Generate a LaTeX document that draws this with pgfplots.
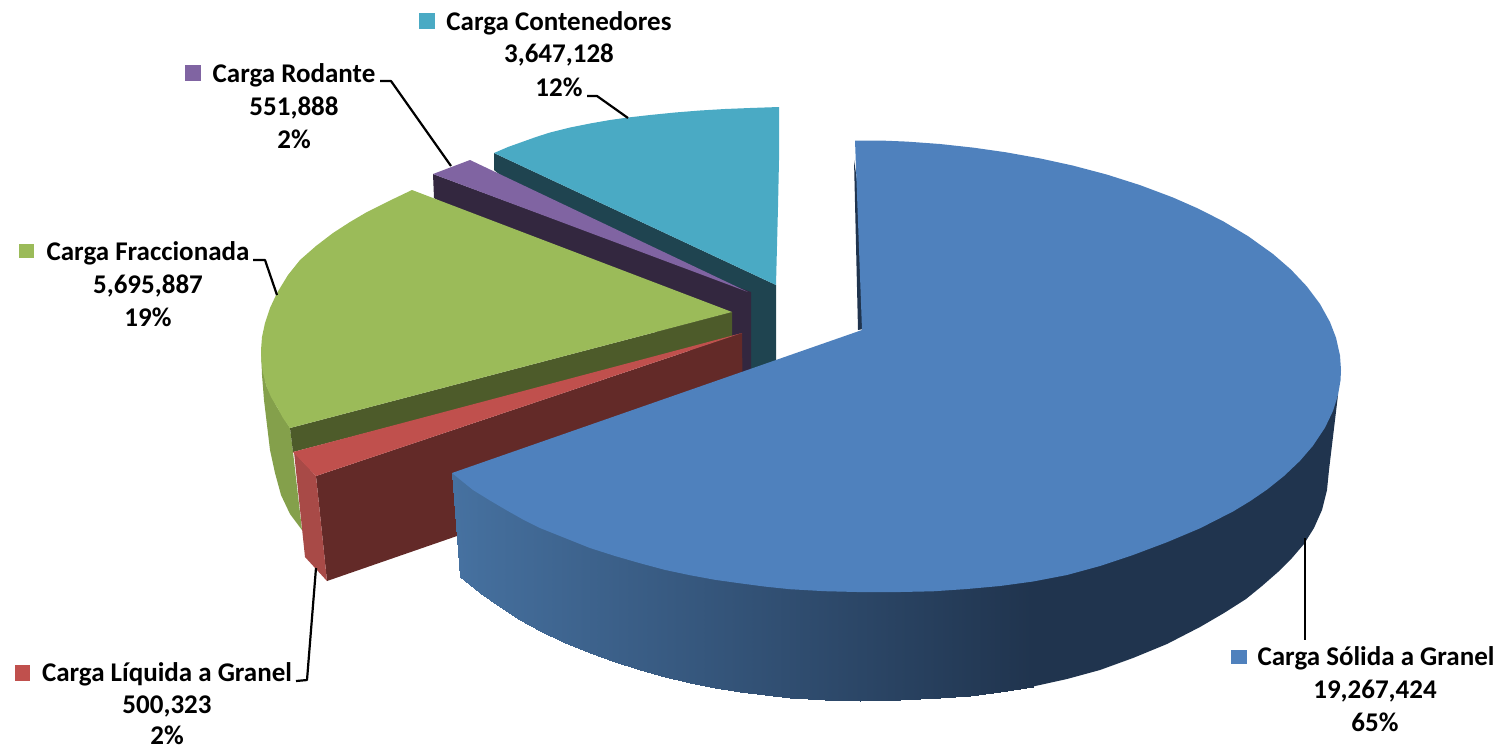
\documentclass[border=0pt]{standalone}
\usepackage{pgfplots}
\pgfplotsset{compat=1.18}
\usepackage{fontspec}
\setmainfont{Carlito}
\definecolor{bluetop}{HTML}{4F81BD}
\definecolor{bluedark}{HTML}{20344E}
\definecolor{redtop}{HTML}{C0504D}
\definecolor{redout}{HTML}{A84A47}
\definecolor{reddark}{HTML}{632A28}
\definecolor{greentop}{HTML}{9BBB59}
\definecolor{greenout}{HTML}{84A04B}
\definecolor{greendark}{HTML}{4D5B2A}
\definecolor{purpletop}{HTML}{8064A2}
\definecolor{purpledark}{HTML}{33273F}
\definecolor{cyantop}{HTML}{4AAAC4}
\definecolor{cyandark}{HTML}{1F4450}
\newcommand{\lab}[3]{\node[anchor=base,inner sep=0pt,font=\fontsize{27}{30}\selectfont\bfseries] at (axis cs:#1,#2) {#3};}
\begin{document}
\begin{tikzpicture}
\useasboundingbox (0,0) rectangle (1499pt,748pt);
\begin{axis}[
  scale only axis, width=1499pt, height=748pt,
  xmin=0, xmax=1499, ymin=0, ymax=748, y dir=reverse,
  hide axis, clip=false,
  colormap={sideblue}{rgb255=(32,52,78) rgb255=(70,113,160)},
  point meta min=0, point meta max=1,
  poly/.style={draw=none, mark=none, fill=#1, forget plot},
  leader/.style={draw=black, line width=2.2pt, mark=none, forget plot, line join=round},
]
% cyan
\addplot[poly=cyandark] coordinates {(494,153)(776,285)(776,380)(750,380)(494,170)} --cycle;
\addplot[poly=cyantop] coordinates {(494,153)(508,147)(522,142)(536,137)(550,132.5)(570,127.5)(590,123.5)(610,120)(628,117.5)(650,115)(675,112.5)(700,110.5)(725,109)(750,108)(779,107)(779,160)(778,207)(776,285)} --cycle;
% purple
\addplot[poly=purpledark] coordinates {(433,174)(751,292)(751,385)(600,300)(434,198)} --cycle;
\addplot[poly=purpletop] coordinates {(433,174)(470,160)(748,292)} --cycle;
% green
\addplot[poly=greenout] coordinates {(261,350)(262,375)(264,400)(267,425)(270,450)(275,473)(281,495)(290,514)(302,530)(293,452)(290,428)(277,407)(266,385)} --cycle;
\addplot[poly=greendark] coordinates {(290,428)(732,312)(732,338)(293,452)} --cycle;
\addplot[poly=greentop] coordinates {(412,190)(389,201)(367,212)(350,222)(333,233)(316,246)(300,260)(288,275)(277,293)(270,308)(265,323)(262,337)(261,350)(261.5,362)(263,373)(266,385)(271,397)(277,407)(283,418)(290,428)(732,312)} --cycle;
% red
\addplot[poly=reddark] coordinates {(316,476)(742,333)(743,437)(327,581)} --cycle;
\addplot[poly=redout] coordinates {(294,452)(316,476)(327,581)(305,557)} --cycle;
\addplot[poly=redtop] coordinates {(293,452)(742,333)(316,476)} --cycle;
% blue
\addplot[poly=bluedark] coordinates {(854,160)(858,330)(863,329)(860,200)} --cycle;
\addplot[patch, patch type=rectangle, shader=interp, point meta=explicit, forget plot] table[meta=c] {
x y c
452 473 1.000
480 480 0.952
480 593 0.952
460 577 1.000
480 480 0.952
500 490 0.917
500 607 0.917
480 593 0.952
500 490 0.917
520 505 0.883
520 619.5 0.883
500 607 0.917
520 505 0.883
540 515 0.849
540 630.5 0.849
520 619.5 0.883
540 515 0.849
565 525 0.805
565 642.5 0.805
540 630.5 0.849
565 525 0.805
590 535 0.762
590 653 0.762
565 642.5 0.805
590 535 0.762
615 545 0.719
615 662 0.719
590 653 0.762
615 545 0.719
640 555 0.676
640 670 0.676
615 662 0.719
640 555 0.676
665 562 0.633
665 677 0.633
640 670 0.676
665 562 0.633
690 568 0.590
690 683 0.590
665 677 0.633
690 568 0.590
715 572 0.547
715 688 0.547
690 683 0.590
715 572 0.547
740 576 0.504
740 692 0.504
715 688 0.547
740 576 0.504
765 579 0.461
765 695 0.461
740 692 0.504
765 579 0.461
790 582 0.418
790 698 0.418
765 695 0.461
790 582 0.418
825 584 0.358
825 700 0.358
790 698 0.418
825 584 0.358
860 585 0.298
860 701 0.298
825 700 0.358
860 585 0.298
900 585 0.229
900 700 0.229
860 701 0.298
900 585 0.229
940 583 0.160
940 698 0.160
900 700 0.229
940 583 0.160
970 581 0.108
970 695.5 0.108
940 698 0.160
970 581 0.108
1000 578 0.057
1000 691.5 0.057
970 695.5 0.108
1000 578 0.057
1033 575 0.000
1033 686.5 0.000
1000 691.5 0.057
};
\addplot[poly=bluedark] coordinates {(1033,575)(1338,395)(1329,470)(1327,490)(1322,510)(1314,528)(1304,544)(1292,558)(1278,572)(1262,586)(1246,599)(1224,613)(1200,627)(1167,644)(1133,658)(1100,670)(1067,679)(1033,686.5)} --cycle;
\addplot[poly=bluetop] coordinates {(855,140.5)(880,140.5)(907,141.6)(940,144)(973,147.6)(1006,152.3)(1040,158.4)(1073,165.6)(1107,174.6)(1140,185.1)(1173,197.5)(1198,208.5)(1223,221.2)(1248,236.1)(1273,254)(1291,269.6)(1307,286.6)(1320,304)(1330,322.1)(1336,337.7)(1340,355.5)(1341,370.1)(1340.5,380.4)(1338,395)(1333,410.9)(1325,427.7)(1313,445.7)(1300,460.8)(1284,476)(1267,489.6)(1250,501.2)(1233,511.5)(1200,528.3)(1167,542.2)(1133,555)(1100,566)(1067,575)(1033,581.5)(1000,586)(967,589)(933,591.3)(900,592)(857,592)(825,591.2)(790,589.2)(765,586.6)(740,583.3)(715,579.8)(690,575.2)(665,569.9)(640,563.2)(615,556)(590,548)(565,538)(540,528)(523,519.5)(507,510.5)(490,500.5)(473,490)(460,479.5)(452,473)(862,330)} --cycle;
% leader lines
\addplot[leader] coordinates {(1305,538)(1305,640)};
\addplot[leader] coordinates {(316,568)(307,680)(296,681)};
\addplot[leader] coordinates {(253,260)(265,260)(277,295)};
\addplot[leader] coordinates {(380,81)(391,81)(451,166)};
\addplot[leader] coordinates {(587,96)(597,96)(628,118)};
% legend keys
\addplot[poly=bluetop] coordinates {(1231,650)(1247,650)(1247,664)(1231,664)} --cycle;
\addplot[poly=redtop] coordinates {(15,665)(30,665)(30,681)(15,681)} --cycle;
\addplot[poly=greentop] coordinates {(19,244)(34,244)(34,258)(19,258)} --cycle;
\addplot[poly=purpletop] coordinates {(185,65)(201,65)(201,81)(185,81)} --cycle;
\addplot[poly=cyantop] coordinates {(419,13)(435,13)(435,29)(419,29)} --cycle;
% labels
\lab{1376}{665}{Carga Sólida a Granel}
\lab{1375}{698}{19,267,424}
\lab{1375}{731}{65\%}
\lab{167}{681}{Carga Líquida a Granel}
\lab{167}{713}{500,323}
\lab{167}{744.5}{2\%}
\lab{148}{260}{Carga Fraccionada}
\lab{148}{293}{5,695,887}
\lab{148}{326}{19\%}
\lab{294}{82}{Carga Rodante}
\lab{294}{115}{551,888}
\lab{294}{148}{2\%}
\lab{559}{30}{Carga Contenedores}
\lab{559}{62}{3,647,128}
\lab{559}{96}{12\%}
\end{axis}
\end{tikzpicture}
\end{document}
